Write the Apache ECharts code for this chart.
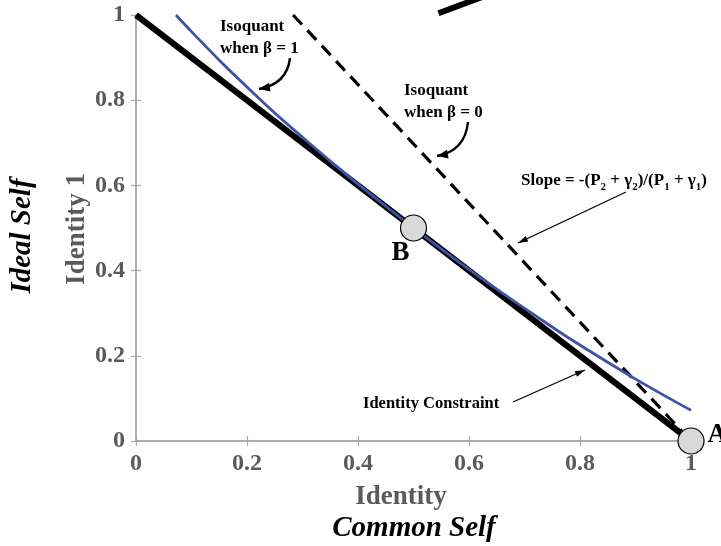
<!DOCTYPE html>
<html>
<head>
<meta charset="utf-8">
<script src="https://cdn.jsdelivr.net/npm/echarts@6/dist/echarts.min.js"></script>
<style>
  html, body { margin: 0; padding: 0; background: #ffffff; }
  #chart { width: 721px; height: 546px; }
</style>
</head>
<body>
<div id="chart"></div>
<script>
// ---- data ----
const axisTicks = [0, 0.2, 0.4, 0.6, 0.8, 1];
const constraintX = [0, 1];
const constraintY = [1, 0];
const isoBeta0X = [0.283, 1];
const isoBeta0Y = [1, 0];
const isoBeta1X = [0.072, 0.1, 0.15, 0.2, 0.25, 0.3, 0.35, 0.4, 0.45, 0.5, 0.551, 0.603, 0.657, 0.713, 0.770, 0.831, 0.894, 0.961, 1.0];
const isoBeta1Y = [1.0, 0.961, 0.894, 0.831, 0.770, 0.713, 0.657, 0.603, 0.551, 0.5, 0.45, 0.4, 0.35, 0.3, 0.25, 0.2, 0.15, 0.1, 0.072];
const topStrokeX = [0.545, 0.66];
const topStrokeY = [1.004, 1.06];
const pointNames = ['B', 'A'];
const pointX = [0.5, 1];
const pointY = [0.5, 0];

const zip = (xs, ys) => xs.map((x, i) => [x, ys[i]]);
const SERIF = '"Liberation Serif", "DejaVu Serif", serif';
const GRAY = '#5a5a5a';
const AXIS = '#a8a8a8';

const chart = echarts.init(document.getElementById('chart'), null, { renderer: 'canvas' });

function axisCommon(pos, showLabel) {
  return {
    type: 'value', min: 0, max: 1, interval: 0.2, position: pos,
    axisLine: { show: true, lineStyle: { color: AXIS, width: 1.5 } },
    axisTick: { show: true, inside: true, length: 5, lineStyle: { color: AXIS, width: 1.2 } },
    splitLine: { show: false },
    axisLabel: {
      show: showLabel, fontFamily: SERIF, fontWeight: 'bold', fontSize: 24, color: GRAY,
      margin: 11
    }
  };
}

function arrowHead(tip, from, len, wid) {
  const dx = tip[0] - from[0], dy = tip[1] - from[1];
  const d = Math.sqrt(dx * dx + dy * dy);
  const ux = dx / d, uy = dy / d;
  const bx = tip[0] - ux * len, by = tip[1] - uy * len;
  return {
    type: 'polygon',
    shape: { points: [tip, [bx - uy * wid / 2, by + ux * wid / 2], [bx + uy * wid / 2, by - ux * wid / 2]] },
    style: { fill: '#000' }, z: 100
  };
}
function curvedArrow(p0, cp, p1) {
  return [
    { type: 'bezierCurve', shape: { x1: p0[0], y1: p0[1], cpx1: cp[0], cpy1: cp[1], x2: p1[0], y2: p1[1] },
      style: { stroke: '#000', lineWidth: 2.4, fill: null }, z: 100 },
    arrowHead(p1, cp, 11, 9)
  ];
}
function straightArrow(p0, p1) {
  return [
    { type: 'line', shape: { x1: p0[0], y1: p0[1], x2: p1[0], y2: p1[1] },
      style: { stroke: '#000', lineWidth: 1.3 }, z: 100 },
    arrowHead(p1, p0, 10, 6)
  ];
}
function txt(x, y, text, opts) {
  return Object.assign({ type: 'text', x: x, y: y, z: 100,
    style: Object.assign({ text: text, fontFamily: SERIF, fontWeight: 'bold', fontSize: 17, fill: '#000',
      align: 'left', verticalAlign: 'middle' }, opts.style || {}) }, opts.el || {});
}

const option = {
  backgroundColor: '#ffffff',
  animation: false,
  grid: { left: 136, right: 30, top: 15, bottom: 105, containLabel: false },
  xAxis: [axisCommon('bottom', true), axisCommon('top', false)],
  yAxis: [axisCommon('left', true), axisCommon('right', false)],
  series: [
    { name: 'Identity Constraint', type: 'line', data: zip(constraintX, constraintY), symbol: 'none',
      lineStyle: { color: '#000', width: 6 }, z: 2, clip: false },
    { name: 'Isoquant β=0', type: 'line', data: zip(isoBeta0X, isoBeta0Y), symbol: 'none',
      lineStyle: { color: '#000', width: 3.2, type: [13, 8] }, z: 3, clip: false },
    { name: 'Isoquant β=1', type: 'line', data: zip(isoBeta1X, isoBeta1Y), symbol: 'none', smooth: 0.3,
      lineStyle: { color: '#3d52a8', width: 2.8 }, z: 4, clip: false },
    { name: 'top stroke', type: 'line', data: zip(topStrokeX, topStrokeY), symbol: 'none',
      lineStyle: { color: '#000', width: 6 }, z: 2, clip: false },
    { name: 'points', type: 'scatter', clip: false, z: 10, symbolSize: 26,
      itemStyle: { color: '#d9d9d9', borderColor: '#000', borderWidth: 1.2, opacity: 1 },
      data: pointNames.map((n, i) => ({
        name: n, value: [pointX[i], pointY[i]],
        label: n === 'B'
          ? { show: true, formatter: '{b}', position: 'inside', offset: [-13, 25] }
          : { show: true, formatter: '{b}', position: 'right', distance: 3, offset: [0, -6] }
      })),
      label: { fontFamily: SERIF, fontWeight: 'bold', fontSize: 27, color: '#000' }
    }
  ],
  graphic: [
    // axis titles
    txt(401, 497, 'Identity', { style: { fontSize: 27, fill: GRAY, align: 'center' } }),
    txt(414, 529, 'Common Self', { style: { fontSize: 29, fontStyle: 'italic', align: 'center' } }),
    txt(77, 229, 'Identity 1', { style: { fontSize: 27, fill: GRAY, align: 'center' }, el: { rotation: Math.PI / 2 } }),
    txt(23, 236, 'Ideal Self', { style: { fontSize: 29, fontStyle: 'italic', align: 'center' }, el: { rotation: Math.PI / 2 } }),
    // annotations
    txt(220, 27, 'Isoquant', {}),
    txt(220, 49, 'when β = 1', {}),
    txt(404, 91, 'Isoquant', {}),
    txt(404, 113, 'when β = 0', {}),
    {
      type: 'text', x: 521, y: 184, z: 100,
      style: {
        text: '{m|Slope = -(P}{s|2}{m| + γ}{s|2}{m|)/(P}{s|1}{m| + γ}{s|1}{m|)}',
        align: 'left', verticalAlign: 'middle',
        rich: {
          m: { fontFamily: SERIF, fontWeight: 'bold', fontSize: 17, lineHeight: 17, padding: [0, 0, 7, 0], fill: '#000' },
          s: { fontFamily: SERIF, fontWeight: 'bold', fontSize: 11, lineHeight: 11, padding: [7, 0, 0, 0], fill: '#000' }
        }
      }
    },
    txt(363, 404, 'Identity Constraint', { style: { fontSize: 16.5 } }),
    ...curvedArrow([290, 58], [287, 84], [259, 89]),
    ...curvedArrow([468, 122], [465, 151], [437, 156]),
    ...straightArrow([626, 192], [518, 243]),
    ...straightArrow([513, 402], [585, 370])
  ]
};
chart.setOption(option);
</script>
</body>
</html>
